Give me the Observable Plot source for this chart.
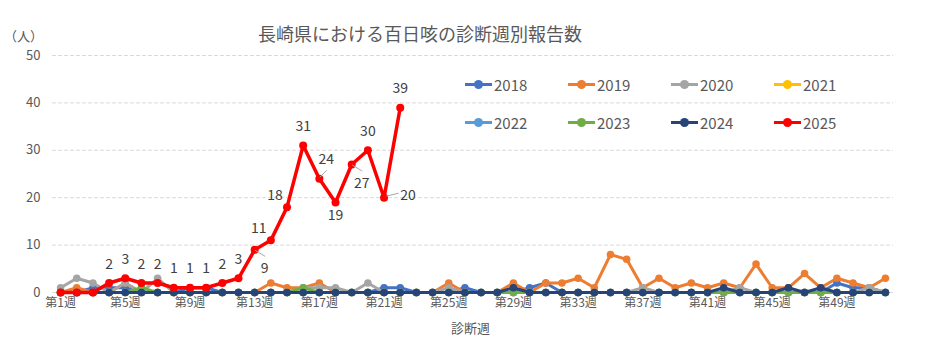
<!DOCTYPE html>
<html><head><meta charset="utf-8">
<script src="https://cdn.jsdelivr.net/npm/d3@7"></script>
<script src="https://cdn.jsdelivr.net/npm/@observablehq/plot@0.6"></script>
<style>
body{margin:0;background:#fff;font-family:"Noto Sans CJK JP","Noto Sans",sans-serif;}
#wrap{position:relative;width:937px;height:352px;overflow:hidden;}
.ov{position:absolute;color:#595959;white-space:nowrap;}
.lg{position:absolute;display:flex;align-items:center;color:#595959;font-size:15px;}
.lg .sw{position:relative;width:27px;height:3px;margin-right:2px;}
.lg .sw i{position:absolute;left:9px;top:-3px;width:9px;height:9px;border-radius:50%;}
</style></head><body><div id="wrap"></div>
<script>
const title = "長崎県における百日咳の診断週別報告数";
const yUnit = "（人）";
const xTitle = "診断週";
const years = ["2018","2019","2020","2021","2022","2023","2024","2025"];
const colors = ["#4472C4","#ED7D31","#A5A5A5","#FFC000","#5B9BD5","#70AD47","#264478","#FF0000"];
const xTickWeeks = [1,5,9,13,17,21,25,29,33,37,41,45,49];
const yTicks = [0,10,20,30,40,50];

const v2018 = [0,0,1,1,1,0,0,0,1,1, 0,0,0,0,0,0,0,0,0,0, 1,1,0,0,0,1,0,0,0,1, 2,0,0,0,0,0,0,0,0,0, 0,0,0,0,0,0,0,0,2,1, 1,0];
const v2019 = [0,1,0,0,2,0,0,0,0,0, 0,0,0,2,1,1,2,0,0,0, 0,0,0,0,2,0,0,0,2,0, 2,2,3,1,8,7,1,3,1,2, 1,2,1,6,1,1,4,1,3,2, 1,3];
const v2020 = [1,3,2,0,2,0,3,0,0,0, 0,0,0,0,0,1,1,1,0,2, 0,0,0,0,1,0,0,0,0,0, 0,0,0,0,0,0,1,0,0,0, 0,0,1,0,0,0,0,0,0,0, 1,0];
const v2021 = [0,0,0,0,0,0,0,0,0,0, 0,0,0,0,0,0,0,0,0,0, 0,0,0,0,0,0,0,0,0,0, 0,0,0,0,0,0,0,0,0,0, 0,0,0,0,0,0,0,0,0,0, 0,0];
const v2022 = [0,0,0,0,0,0,0,0,0,0, 0,0,0,0,0,0,0,0,0,0, 0,0,0,0,0,0,0,0,0,0, 0,0,0,0,0,0,0,0,0,0, 0,0,0,0,0,0,0,0,0,0, 0,0];
const v2023 = [0,0,0,0,0,1,0,0,0,0, 0,0,0,0,0,1,0,0,0,0, 0,0,0,0,0,0,0,0,0,0, 0,0,0,0,0,0,0,0,0,0, 0,0,0,0,0,0,0,0,0,0, 0,0];
const v2024 = [0,0,0,0,0,0,0,0,0,0, 0,0,0,0,0,0,0,0,0,0, 0,0,0,0,0,0,0,0,1,0, 0,0,0,0,0,0,0,0,0,0, 0,1,0,0,0,1,0,1,0,0, 0,0];
const v2025 = [0,0,0,2,3,2,2,1,1,1,2,3,9,11,18,31,24,19,27,30,20,39];
const labelPos2025 = [null,null,null,"t","t","t","t","t","t","t","t","t","br","tl","tl","t","tr","b","br","t","r","t"];

const series = [v2018,v2019,v2020,v2021,v2022,v2023,v2024,v2025];
const data = [];
years.forEach((y,k)=>series[k].forEach((v,i)=>data.push({year:y, week:i+1, value:v})));
const labels = v2025.map((v,i)=>({week:i+1, value:v, pos:labelPos2025[i]})).filter(d=>d.pos);

const offs = {t:[0,-19], b:[0,13], br:[10,19], tl:[-12,-12], tr:[7,-19], r:[24,-2]};
const leaders = {br:[[1,1],[11,7]], tr:[[1,-1],[8,-8]], r:[[3,-1],[15,-4]]};

const marks = [
  Plot.gridY(yTicks.filter(d=>d>0), {stroke:"#d9d9d9", strokeOpacity:1, strokeDasharray:"4,2"}),
  Plot.ruleY([0], {stroke:"#d9d9d9"}),
  Plot.axisY(yTicks, {tickSize:0, tickPadding:12, fontSize:13, fill:"#595959", label:null}),
  Plot.axisX(xTickWeeks, {tickSize:0, tickPadding:6, fontSize:12, fill:"#595959", label:null, tickFormat:d=>`第${d}週`})
];
years.forEach((y,k)=>{
  const d = data.filter(e=>e.year===y);
  const red = y==="2025";
  marks.push(Plot.line(d, {x:"week", y:"value", stroke:colors[k], strokeWidth:red?3.5:3, strokeLinejoin:"round"}));
  marks.push(Plot.dot(d, {x:"week", y:"value", fill:colors[k], r:red?4:3.8, stroke:"none"}));
});
Object.entries(offs).forEach(([p,[dx,dy]])=>{
  marks.push(Plot.text(labels.filter(d=>d.pos===p), {x:"week", y:"value", text:d=>String(d.value), dx, dy, fontSize:14, fill:"#404040"}));
});

const plot = Plot.plot({
  width:937, height:352,
  marginLeft:52, marginRight:44, marginTop:55, marginBottom:60,
  style:{fontFamily:'"Noto Sans CJK JP","Noto Sans",sans-serif', color:"#595959", background:"#fff"},
  x:{type:"linear", domain:[0.5,52.5], axis:null, label:null},
  y:{domain:[0,50], axis:null, label:null},
  marks
});
plot.style.position="absolute"; plot.style.left="0"; plot.style.top="0";
const wrap = document.getElementById("wrap");
wrap.appendChild(plot);

const sx = plot.scale("x"), sy = plot.scale("y");
const svg = d3.select(plot);
const g = svg.append("g");
labels.filter(d=>leaders[d.pos]).forEach(d=>{
  const px = sx.apply(d.week), py = sy.apply(d.value);
  const [[a,b],[c,e]] = leaders[d.pos];
  g.append("line").attr("x1",px+a).attr("y1",py+b).attr("x2",px+c).attr("y2",py+e)
   .attr("stroke","#a6a6a6").attr("stroke-width",1);
});

function ov(text,left,top,size,extra){
  const el=document.createElement("div"); el.className="ov"; el.textContent=text;
  el.style.left=left+"px"; el.style.top=top+"px"; el.style.fontSize=size+"px";
  if(extra) Object.assign(el.style, extra);
  wrap.appendChild(el); return el;
}
ov(title,0,20,18,{width:"840px",textAlign:"center"});
ov(yUnit,4,26,13);
ov(xTitle,0,318,13,{width:"937px",textAlign:"center",left:"2px"});

const legX=[465,568,671,774], legY=[84,122];
years.forEach((y,k)=>{
  const el=document.createElement("div"); el.className="lg";
  el.style.left=legX[k%4]+"px"; el.style.top=(legY[Math.floor(k/4)]-11)+"px"; el.style.height="22px";
  el.innerHTML=`<span class="sw" style="background:${colors[k]}"><i style="background:${colors[k]}"></i></span><span>${y}</span>`;
  wrap.appendChild(el);
});
</script></body></html>
